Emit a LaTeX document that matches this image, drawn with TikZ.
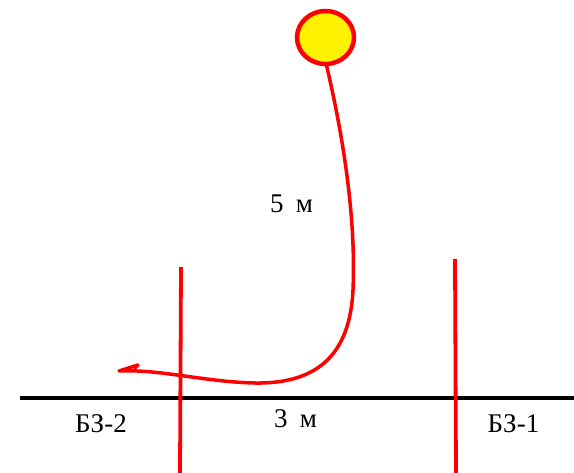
\documentclass[tikz,border=0pt]{standalone}
\usepackage{fontspec}
\setmainfont{Liberation Serif}
\usetikzlibrary{shapes.geometric}
\begin{document}
\begin{tikzpicture}[x=1pt,y=-1pt,
  redline/.style={draw=red,line width=3.5pt},
  lbl/.style={font=\fontsize{27}{32}\selectfont,inner sep=0pt,anchor=base}]
\useasboundingbox (0,0) rectangle (574,473);
% ground line
\coordinate (gl) at (20,398);
\coordinate (gr) at (574,398);
\draw[line width=4pt] (gl) -- (gr);
% barriers
\coordinate (b2t) at (181,267);
\coordinate (b2b) at (180,473);
\coordinate (b1t) at (455,259);
\coordinate (b1b) at (456,473);
\draw[redline,line width=3.8pt] (b2t) -- (b2b);
\draw[redline,line width=3.8pt] (b1t) -- (b1b);
% sun
\node[ellipse,draw=red,fill=yellow,line width=4.5pt,minimum width=57pt,minimum height=53pt,inner sep=0pt] (sun) at (325.5,37.5) {};
% path
\coordinate (end) at (119,371);
\coordinate (hook) at (138,365);
\coordinate (hb) at (135,368);
\draw[redline,line cap=round,line join=round] (sun.south) ++(1,-1) .. controls (344,140) and (356,220) .. (353,290)
  .. controls (350,352) and (320,384) .. (255,383)
  .. controls (205,382) and (160,369) .. (end) -- (hook) -- (hb);
% labels
\node[lbl] (l5) at (291.5,213) {5\hspace{0.2em} м};
\node[lbl] (l3) at (295.5,428) {3\hspace{0.2em} м};
\node[lbl] (lb2) at (101,433) {БЗ-2};
\node[lbl] (lb1) at (513.5,433) {БЗ-1};
\end{tikzpicture}
\end{document}
